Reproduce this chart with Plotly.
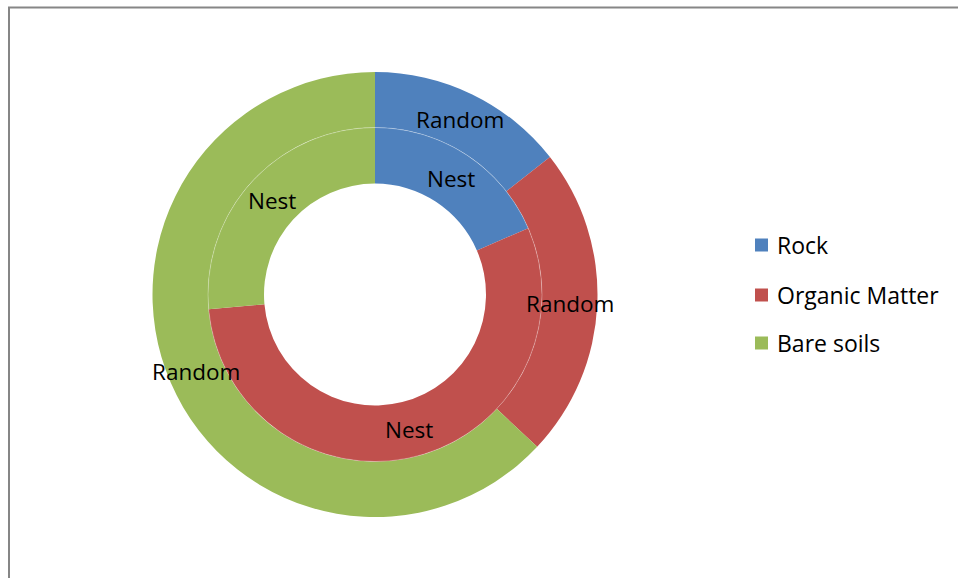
import math
import plotly.graph_objects as go

# Share of each surface type (percent) for the two sampling schemes
categories = ["Rock", "Organic Matter", "Bare soils"]
nest_values = [18.5, 55.1, 26.4]
random_values = [14.4, 22.6, 63.0]
ring_labels = ["Nest", "Random"]
colors = ["#4F81BD", "#C0504D", "#9BBB59"]

W, H = 958, 578
CX, CY = 375, 294.5          # doughnut centre (px)
R_OUT, R_MID, R_IN = 222.5, 167, 111
FONT = "Open Sans"
FSIZE = 22.5
LEGEND_FSIZE = 23


def px_x(x):
    return x / W


def px_y(y):
    return 1 - y / H


def domain(r):
    return dict(x=[px_x(CX - r), px_x(CX + r)], y=[px_y(CY + r), px_y(CY - r)])


fig = go.Figure()
fig.add_trace(go.Pie(
    labels=categories, values=random_values, name="Random",
    domain=domain(R_OUT), hole=R_MID / R_OUT,
    sort=False, direction="clockwise", rotation=0,
    marker=dict(colors=colors, line=dict(width=0)),
    textinfo="none", hoverinfo="label+value", showlegend=False,
))
fig.add_trace(go.Pie(
    labels=categories, values=nest_values, name="Nest",
    domain=domain(R_MID), hole=R_IN / R_MID,
    sort=False, direction="clockwise", rotation=0,
    marker=dict(colors=colors, line=dict(width=0)),
    textinfo="none", hoverinfo="label+value", showlegend=False,
))

annotations = []


def ring_annotations(values, text, r_inner, r_outer):
    total = sum(values)
    start = 0.0
    r = (r_inner + r_outer) / 2
    for v in values:
        sweep = 360 * v / total
        mid = math.radians(start + sweep / 2)
        start += sweep
        x = CX + r * math.sin(mid)
        y = CY - r * math.cos(mid)
        annotations.append(dict(
            x=px_x(x), y=px_y(y), xref="paper", yref="paper",
            text=text, showarrow=False, xanchor="center", yanchor="middle",
            font=dict(family=FONT, size=FSIZE, color="#000000"),
        ))


ring_annotations(random_values, ring_labels[1], R_MID, R_OUT)
ring_annotations(nest_values, ring_labels[0], R_IN, R_MID)

# Legend drawn as swatches + text
shapes = []
legend_y = [245, 295, 343]
for cat, col, ly in zip(categories, colors, legend_y):
    shapes.append(dict(
        type="rect", xref="paper", yref="paper",
        x0=px_x(755), x1=px_x(768), y0=px_y(ly + 6.5), y1=px_y(ly - 6.5),
        fillcolor=col, line=dict(width=0),
    ))
    annotations.append(dict(
        x=px_x(775), y=px_y(ly), xref="paper", yref="paper",
        text=cat, showarrow=False, xanchor="left", yanchor="middle",
        font=dict(family=FONT, size=LEGEND_FSIZE, color="#000000"),
    ))

# faint seam between the two rings
shapes.append(dict(
    type="circle", xref="paper", yref="paper",
    x0=px_x(CX - R_MID), x1=px_x(CX + R_MID),
    y0=px_y(CY + R_MID), y1=px_y(CY - R_MID),
    line=dict(color="rgba(255,255,255,0.35)", width=0.8),
))

# chart frame (left and top edges)
shapes.append(dict(type="line", xref="paper", yref="paper",
                   x0=px_x(9), x1=px_x(9), y0=px_y(H), y1=px_y(7),
                   line=dict(color="#868686", width=2)))
shapes.append(dict(type="line", xref="paper", yref="paper",
                   x0=px_x(8), x1=px_x(W), y0=px_y(7.5), y1=px_y(7.5),
                   line=dict(color="#868686", width=2)))

fig.update_layout(
    width=W, height=H,
    margin=dict(l=0, r=0, t=0, b=0),
    paper_bgcolor="white", plot_bgcolor="white",
    showlegend=False,
    annotations=annotations,
    shapes=shapes,
)

fig.write_html("out.html")
